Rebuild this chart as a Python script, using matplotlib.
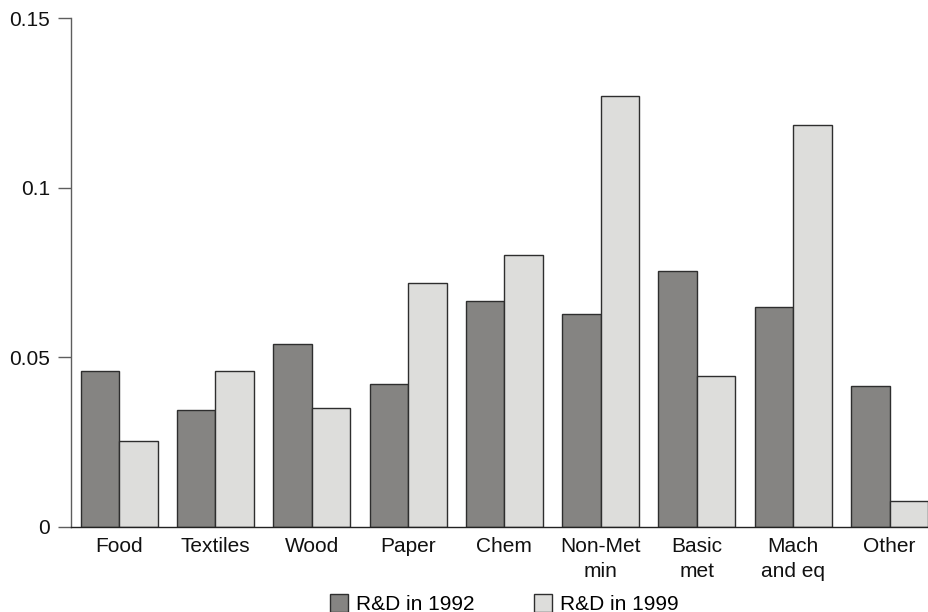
import matplotlib
matplotlib.use('Agg')
import matplotlib.pyplot as plt
import numpy as np

# R&D intensity by sector
SECTORS = ['Food', 'Textiles', 'Wood', 'Paper', 'Chem', 'Non-Met\nmin',
           'Basic\nmet', 'Mach\nand eq', 'Other']
RD_1992 = [0.0460, 0.0346, 0.0538, 0.0421, 0.0666, 0.0627, 0.0753, 0.0649, 0.0415]
RD_1999 = [0.0252, 0.0460, 0.0350, 0.0720, 0.0803, 0.1271, 0.0445, 0.1184, 0.0076]

Y_TICKS = [0, 0.05, 0.1, 0.15]
Y_TICK_LABELS = ['0', '0.05', '0.1', '0.15']

LABEL_1992 = 'R&D in 1992'
LABEL_1999 = 'R&D in 1999'

# design
DARK = '#858482'
LIGHT = '#dddddb'
EDGE = '#2e2e2e'
AXIS_GREY = '#5e5e5e'
FONT_SIZE = 15
BAR_W = 0.4

plt.rcParams['font.family'] = ['Liberation Sans', 'DejaVu Sans']

fig = plt.figure(figsize=(9.29, 6.12), dpi=100)
ax = fig.add_axes([71 / 929, 1 - 527 / 612, 866.7 / 929, 509 / 612])

x = np.arange(len(SECTORS))
ax.bar(x - BAR_W / 2, RD_1992, BAR_W, color=DARK, edgecolor=EDGE,
       linewidth=1.0, label=LABEL_1992)
ax.bar(x + BAR_W / 2, RD_1999, BAR_W, color=LIGHT, edgecolor=EDGE,
       linewidth=1.0, label=LABEL_1999)

ax.set_xlim(-0.5, 8.5)
ax.set_ylim(0, 0.15)

ax.set_yticks(Y_TICKS)
ax.set_yticklabels(Y_TICK_LABELS, fontsize=FONT_SIZE, color='#111111')
ax.tick_params(axis='y', length=9.4, width=1.0, color=AXIS_GREY, pad=5.5)

ax.set_xticks(x)
ax.set_xticklabels(SECTORS, fontsize=FONT_SIZE, color='#111111',
                   linespacing=1.4)
ax.tick_params(axis='x', length=0, pad=7)

ax.spines['top'].set_visible(False)
ax.spines['right'].set_visible(False)
ax.spines['left'].set_color(AXIS_GREY)
ax.spines['left'].set_linewidth(1.0)
ax.spines['bottom'].set_color('#222222')
ax.spines['bottom'].set_linewidth(1.0)

leg = fig.legend(loc='upper center', bbox_to_anchor=(504.5 / 929, 1 - 584 / 612),
                 ncol=2, frameon=False, fontsize=FONT_SIZE, borderpad=0,
                 handlelength=0.85, handleheight=0.9, handletextpad=0.4,
                 columnspacing=2.85)

plt.savefig('out.png', dpi=100)
plt.close()
